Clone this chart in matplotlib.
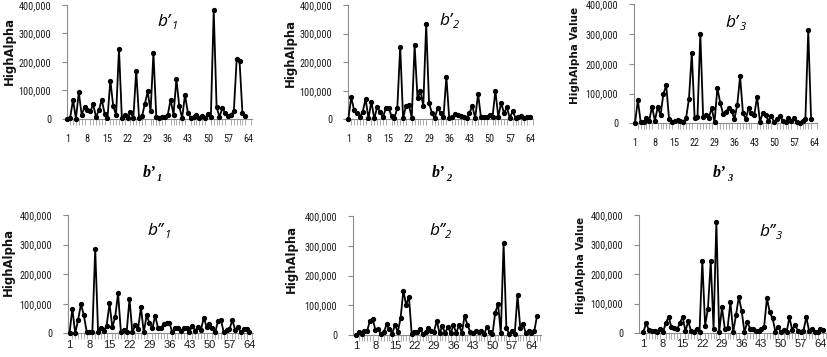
import numpy as np
import matplotlib.pyplot as plt
from matplotlib import font_manager
from matplotlib.ticker import FuncFormatter

# HighAlpha values per segment, in thousands
b1_1 = [0, 4, 68, 0, 94, 15, 42, 30, 27, 51, 8, 30, 68, 19, 4, 135, 44, 15, 247, 4,
        13, 4, 23, 3, 169, 3, 9, 52, 97, 27, 232, 7, 4, 7, 7, 15, 68, 15, 140, 44,
        4, 85, 21, 5, 7, 15, 3, 9, 4, 17, 7, 381, 42, 7, 38, 21, 9, 15, 27, 210,
        204, 21, 9]
b1_2 = [0, 77, 33, 21, 7, 27, 71, 3, 62, 3, 42, 27, 7, 38, 38, 12, 4, 41, 254, 3,
        47, 49, 6, 259, 73, 99, 47, 333, 58, 21, 4, 41, 23, 7, 149, 3, 9, 17, 15, 12,
        7, 3, 21, 47, 4, 89, 7, 9, 9, 15, 7, 100, 9, 58, 21, 42, 4, 29, 4, 7,
        13, 4, 7, 7]
b1_3 = [0, 78, 4, 4, 17, 9, 56, 9, 54, 28, 99, 128, 14, 4, 7, 10, 7, 4, 19, 82,
        237, 17, 20, 302, 20, 28, 19, 51, 4, 118, 70, 32, 37, 53, 43, 14, 61, 158, 36, 14,
        51, 34, 28, 90, 4, 36, 28, 9, 23, 4, 14, 25, 9, 4, 17, 9, 17, 4, 2, 9,
        14, 313, 15]
b2_1 = [0, 83, 0, 45, 98, 62, 6, 6, 6, 285, 6, 17, 9, 26, 101, 20, 56, 135, 3, 11,
        3, 117, 3, 28, 14, 88, 3, 61, 34, 17, 59, 17, 19, 30, 34, 34, 3, 19, 17, 9,
        17, 17, 6, 26, 9, 22, 11, 53, 22, 32, 17, 3, 43, 45, 3, 11, 14, 45, 11, 22,
        3, 14, 14, 3]
b2_2 = [0, 9, 5, 14, 14, 48, 53, 16, 20, 3, 9, 36, 19, 5, 34, 10, 56, 149, 101, 129,
        3, 11, 11, 20, 5, 9, 24, 15, 11, 48, 6, 30, 6, 28, 6, 34, 6, 34, 6, 65,
        34, 11, 6, 15, 9, 14, 3, 26, 11, 3, 75, 104, 6, 308, 24, 3, 14, 4, 134, 22,
        36, 6, 15, 6, 12, 64]
b2_3 = [2, 33, 10, 6, 6, 3, 12, 3, 33, 55, 20, 16, 12, 33, 55, 6, 40, 6, 3, 15,
        3, 245, 25, 83, 243, 15, 377, 3, 87, 15, 17, 104, 3, 62, 122, 75, 3, 37, 15, 15,
        8, 8, 12, 22, 118, 70, 50, 5, 20, 3, 10, 3, 53, 10, 28, 8, 5, 8, 53, 8,
        12, 3, 3, 12, 10]

xtick_labels = [1, 8, 15, 22, 29, 36, 43, 50, 57, 64]
yticks = [0, 100000, 200000, 300000, 400000]

W, H = 827, 357
names = {f.name for f in font_manager.fontManager.ttflist}
# the tick numbers in the figure are a condensed face
narrow = None
for nm in ['Liberation Sans Narrow', 'Roboto Condensed', 'Arial Narrow']:
    if nm in names:
        narrow = nm
        break
if narrow:
    ytick_font, ytick_size = narrow, 7.3
    topx_font, topx_size = narrow, 7.3
else:
    ytick_font, ytick_size = 'Liberation Sans', 6.5
    topx_font, topx_size = 'Liberation Sans', 6.2

fig = plt.figure(figsize=(W / 100, H / 100), dpi=100)
grey = '#8c8c8c'

# (data, ylabel, label size, axis box L R top zero, first point px, step px,
#  ylabel centre, title left/baseline, title text, sub, top row?)
panels = [
    (b1_1, 'HighAlpha', 8.4, (67, 252, 5, 119), 67.3, 2.871, (9, 51), (158, 26), 'b\u2019', '1', True),
    (b1_2, 'HighAlpha', 8.4, (348, 533, 5, 119.3), 348.3, 2.884, (290, 53), (439, 25), 'b\u2019', '2', True),
    (b1_3, 'HighAlpha Value', 7.5, (634, 817, 4.5, 123.3), 635, 2.84, (575, 55), (726, 27), 'b\u2019', '3', True),
    (b2_1, 'HighAlpha', 8.4, (68.3, 253.3, 215, 333.3), 69.5, 2.857, (8, 262), (148, 235), 'b\u2019\u2019', '1', False),
    (b2_2, 'HighAlpha', 8.4, (353, 541, 216, 335), 356, 2.785, (291, 259), (429, 235), 'b\u2019\u2019', '2', False),
    (b2_3, 'HighAlpha Value', 7.5, (639, 826, 215, 333), 643.3, 2.81, (581, 265), (759, 236), 'b\u2019\u2019', '3', False),
]

for vals, ylab, lsize, box, x1, step, lab_c, t_pos, t_txt, t_sub, top_row in panels:
    L, R, T, Z = box
    ax = fig.add_axes([L / W, 1 - Z / H, (R - L) / W, (Z - T) / H])
    y = np.array(vals) * 1000
    x = np.arange(1, len(y) + 1)
    ax.plot(x, y, color='black', lw=1.3, marker='o', ms=2.8, clip_on=False, zorder=3)

    xmin = 1 - (x1 - L) / step
    xmax = 1 + (R - x1) / step
    ax.set_xlim(xmin, xmax)
    ax.set_ylim(0, 400000)

    ax.set_yticks(yticks)
    ax.yaxis.set_major_formatter(FuncFormatter(lambda v, p: f'{v:,.0f}'))
    ax.tick_params(axis='y', direction='out', length=3.5, width=0.8, color=grey,
                   pad=8, labelsize=ytick_size, labelcolor='#1a1a1a')
    for lbl in ax.get_yticklabels():
        lbl.set_family(ytick_font)

    ax.set_xticks(xtick_labels)
    ax.set_xticks(np.arange(1, int(np.floor(xmax)) + 1), minor=True)
    if top_row:
        ax.tick_params(axis='x', which='major', length=0, pad=10.5, labelsize=topx_size,
                       labelcolor='#1a1a1a')
        for lbl in ax.get_xticklabels():
            lbl.set_family(topx_font)
    else:
        ax.tick_params(axis='x', which='major', length=0, pad=4.5, labelsize=8,
                       labelcolor='#1a1a1a')
        for lbl in ax.get_xticklabels():
            lbl.set_family('Liberation Sans')
    ax.tick_params(axis='x', which='minor', direction='out', length=4, width=0.6, color='#a0a0a0')

    for s in ['top', 'right']:
        ax.spines[s].set_visible(False)
    for s in ['left', 'bottom']:
        ax.spines[s].set_color(grey)
        ax.spines[s].set_linewidth(0.8)

    ax.set_ylabel(ylab, fontsize=lsize, fontweight='bold', va='center', color='#111111')
    ax.yaxis.set_label_coords((lab_c[0] - L) / (R - L), (Z - lab_c[1]) / (Z - T))

    t = fig.text(t_pos[0] / W, 1 - t_pos[1] / H, t_txt, family='Open Sans', style='italic',
                 fontsize=12.5, ha='left', va='baseline')
    ax.annotate(t_sub, xy=(1, 0), xycoords=t, xytext=(0.5, -1.5), textcoords='offset points',
                family='Open Sans', style='italic', fontsize=8, ha='left', va='bottom')

# captions under the upper row
for cx, sub in [(143, '1'), (432, '2'), (713, '3')]:
    t = fig.text(cx / W, 1 - 177 / H, 'b\u2019', family='Liberation Serif', style='italic',
                 fontweight='bold', fontsize=11.5, ha='left', va='baseline')
    ax.annotate(sub, xy=(1, 0), xycoords=t, xytext=(0.2, -1.5), textcoords='offset points',
                family='Liberation Serif', style='italic', fontweight='bold', fontsize=7.5,
                ha='left', va='bottom')

plt.savefig('out.png', dpi=100)
